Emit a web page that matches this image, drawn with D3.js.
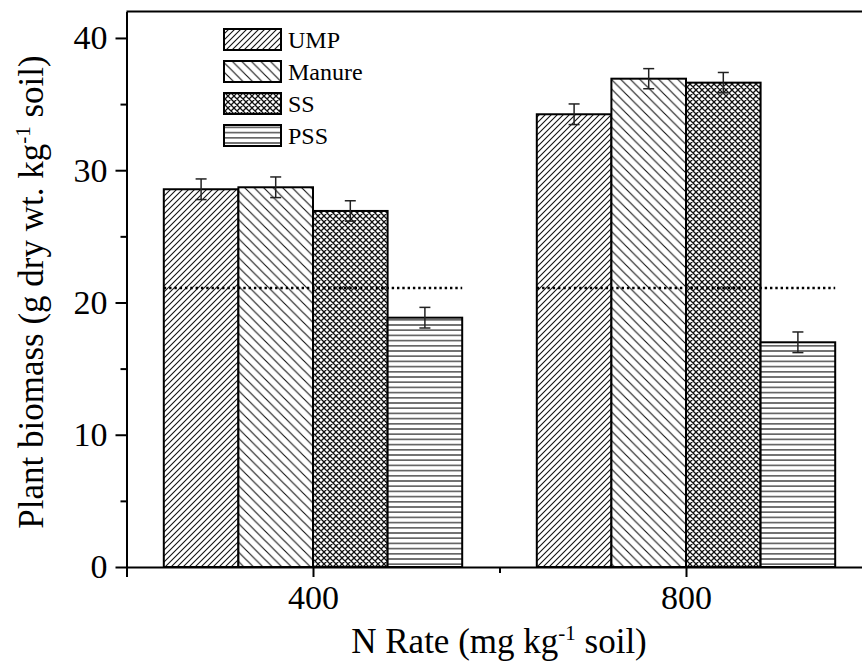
<!DOCTYPE html>
<html>
<head>
<meta charset="utf-8">
<script src="https://cdn.jsdelivr.net/npm/d3@7"></script>
<style>
  html, body { margin: 0; padding: 0; background: #fff; }
  svg { display: block; font-family: "Liberation Serif", "Times New Roman", serif; }
</style>
</head>
<body>
<svg id="chart" width="862" height="665"></svg>
<script>
// ---- data ----
const nRates = [400, 800];
const seriesNames = ["UMP", "Manure", "SS", "PSS"];
const umpValues    = [28.56, 34.23];
const manureValues = [28.71, 36.92];
const ssValues     = [26.92, 36.62];
const pssValues    = [18.85, 16.99];
const umpErr    = [0.78, 0.78];
const manureErr = [0.78, 0.76];
const ssErr     = [0.77, 0.77];
const pssErr    = [0.78, 0.78];
const controlValue = 21.1;
const yTicks = [0, 10, 20, 30, 40];
const yMinorTicks = [5, 15, 25, 35];
const xMajorTicks = [200, 400, 800];
const xMinorTicks = [600, 1000];
const xLabelTicks = [400, 800];

const values = [umpValues, manureValues, ssValues, pssValues];
const errors = [umpErr, manureErr, ssErr, pssErr];
const patternIds = ["pUMP", "pManure", "pSS", "pPSS"];
const barWidthUnits = 80;

const svg = d3.select("#chart");
const x = d3.scaleLinear().domain([200, 1000]).range([126.5, 872.5]);
const y = d3.scaleLinear().domain([0, 42]).range([567, 11.5]);

// ---- patterns ----
const defs = svg.append("defs");
function pat(id, size, draw, h) {
  const p = defs.append("pattern").attr("id", id).attr("patternUnits", "userSpaceOnUse")
    .attr("width", size).attr("height", h || size);
  p.append("rect").attr("width", size).attr("height", h || size).attr("fill", "#fff");
  draw(p, size);
}
pat("pUMP", 6, (p, s) => {
  p.append("path").attr("d", `M0,${s} L${s},0 M-1,1 L1,-1 M${s-1},${s+1} L${s+1},${s-1}`)
    .attr("stroke", "#111").attr("stroke-width", 1.1);
});
pat("pManure", 9.5, (p, s) => {
  p.append("path").attr("d", `M0,0 L${s},${s} M-1,${s-1} L1,${s+1} M${s-1},-1 L${s+1},1`)
    .attr("stroke", "#111").attr("stroke-width", 1.1);
});
pat("pSS", 6, (p, s) => {
  p.append("path").attr("d", `M0,0 L${s},${s} M-1,${s-1} L1,${s+1} M${s-1},-1 L${s+1},1 M0,${s} L${s},0 M-1,1 L1,-1 M${s-1},${s+1} L${s+1},${s-1}`)
    .attr("stroke", "#111").attr("stroke-width", 1.3);
});
pat("pPSS", 5.2, (p, s) => {
  p.append("path").attr("d", `M0,${s/2} L${s},${s/2}`)
    .attr("stroke", "#222").attr("stroke-width", 1.2);
});

// ---- bars ----
const barData = [];
nRates.forEach((r, gi) => {
  seriesNames.forEach((name, si) => {
    const x0 = r - 2 * barWidthUnits + si * barWidthUnits;
    barData.push({ name, si, x0, x1: x0 + barWidthUnits, v: values[si][gi], e: errors[si][gi] });
  });
});
svg.append("g").selectAll("rect").data(barData).join("rect")
  .attr("x", d => x(d.x0)).attr("width", d => x(d.x1) - x(d.x0))
  .attr("y", d => y(d.v)).attr("height", d => y(0) - y(d.v))
  .attr("fill", d => `url(#${patternIds[d.si]})`)
  .attr("stroke", "#000").attr("stroke-width", 2);

// ---- control dotted line ----
svg.append("g").selectAll("line").data(nRates).join("line")
  .attr("x1", r => x(r - 2 * barWidthUnits)).attr("x2", r => x(r + 2 * barWidthUnits))
  .attr("y1", y(controlValue)).attr("y2", y(controlValue))
  .attr("stroke", "#000").attr("stroke-width", 2.4).attr("stroke-dasharray", "2.4,2.9");

// ---- error bars ----
const eg = svg.append("g").attr("stroke", "#222").attr("stroke-width", 1.5);
barData.forEach(d => {
  const cx = x((d.x0 + d.x1) / 2);
  eg.append("line").attr("x1", cx).attr("x2", cx).attr("y1", y(d.v + d.e)).attr("y2", y(d.v - d.e));
  eg.append("line").attr("x1", cx - 5.5).attr("x2", cx + 5.5).attr("y1", y(d.v + d.e)).attr("y2", y(d.v + d.e));
  eg.append("line").attr("x1", cx - 5.5).attr("x2", cx + 5.5).attr("y1", y(d.v - d.e)).attr("y2", y(d.v - d.e));
});

// ---- axes ----
function styleAxis(g) {
  g.attr("font-family", null).attr("font-size", null);
  g.selectAll("path.domain").attr("stroke", "#000").attr("stroke-width", 2);
  g.selectAll(".tick line").attr("stroke", "#000").attr("stroke-width", 2);
  g.selectAll("text").attr("fill", "#000").style("font-size", "34px")
    .style("font-family", '"Liberation Serif", "Times New Roman", serif');
}
// top frame
svg.append("line").attr("x1", x(200)).attr("x2", x(1000)).attr("y1", y(42)).attr("y2", y(42))
  .attr("stroke", "#000").attr("stroke-width", 2);

const gyMinor = svg.append("g").attr("transform", `translate(${x(200)},0)`)
  .call(d3.axisLeft(y).tickValues(yMinorTicks).tickSize(6).tickSizeOuter(0).tickFormat(""));
gyMinor.select("path.domain").remove();
styleAxis(gyMinor);
const gy = svg.append("g").attr("transform", `translate(${x(200)},0)`)
  .call(d3.axisLeft(y).tickValues(yTicks).tickSize(11).tickSizeOuter(0).tickPadding(8).tickFormat(d3.format("d")));
styleAxis(gy);

const gxMinor = svg.append("g").attr("transform", `translate(0,${y(0)})`)
  .call(d3.axisBottom(x).tickValues(xMinorTicks).tickSize(6).tickSizeOuter(0).tickFormat(""));
gxMinor.select("path.domain").remove();
styleAxis(gxMinor);
const gx = svg.append("g").attr("transform", `translate(0,${y(0)})`)
  .call(d3.axisBottom(x).tickValues(xMajorTicks).tickSize(10).tickSizeOuter(0).tickPadding(8)
    .tickFormat(d => xLabelTicks.includes(d) ? String(d) : ""));
styleAxis(gx);

// ---- axis titles ----
const xt = svg.append("text").attr("x", 499).attr("y", 653)
  .attr("text-anchor", "middle").style("font-size", "35px").attr("fill", "#000");
xt.append("tspan").text("N Rate (mg kg");
xt.append("tspan").attr("dy", -13).style("font-size", "21px").text("-1");
xt.append("tspan").attr("dy", 13).text(" soil)");

const yt = svg.append("text").attr("transform", "rotate(-90)")
  .attr("x", -292).attr("y", 43)
  .attr("text-anchor", "middle").style("font-size", "35px").attr("fill", "#000");
yt.append("tspan").text("Plant biomass (g dry wt. kg");
yt.append("tspan").attr("dy", -13).style("font-size", "21px").text("-1");
yt.append("tspan").attr("dy", 13).text(" soil)");

// ---- legend ----
const lg = svg.append("g");
seriesNames.forEach((name, i) => {
  const ty = 29 + i * 32;
  lg.append("rect").attr("x", 224).attr("y", ty).attr("width", 57).attr("height", 21)
    .attr("fill", `url(#${patternIds[i]})`).attr("stroke", "#000").attr("stroke-width", 2);
  lg.append("text").attr("x", 288).attr("y", ty + 18.5).style("font-size", "24px")
    .attr("fill", "#000").text(name);
});
</script>
</body>
</html>
